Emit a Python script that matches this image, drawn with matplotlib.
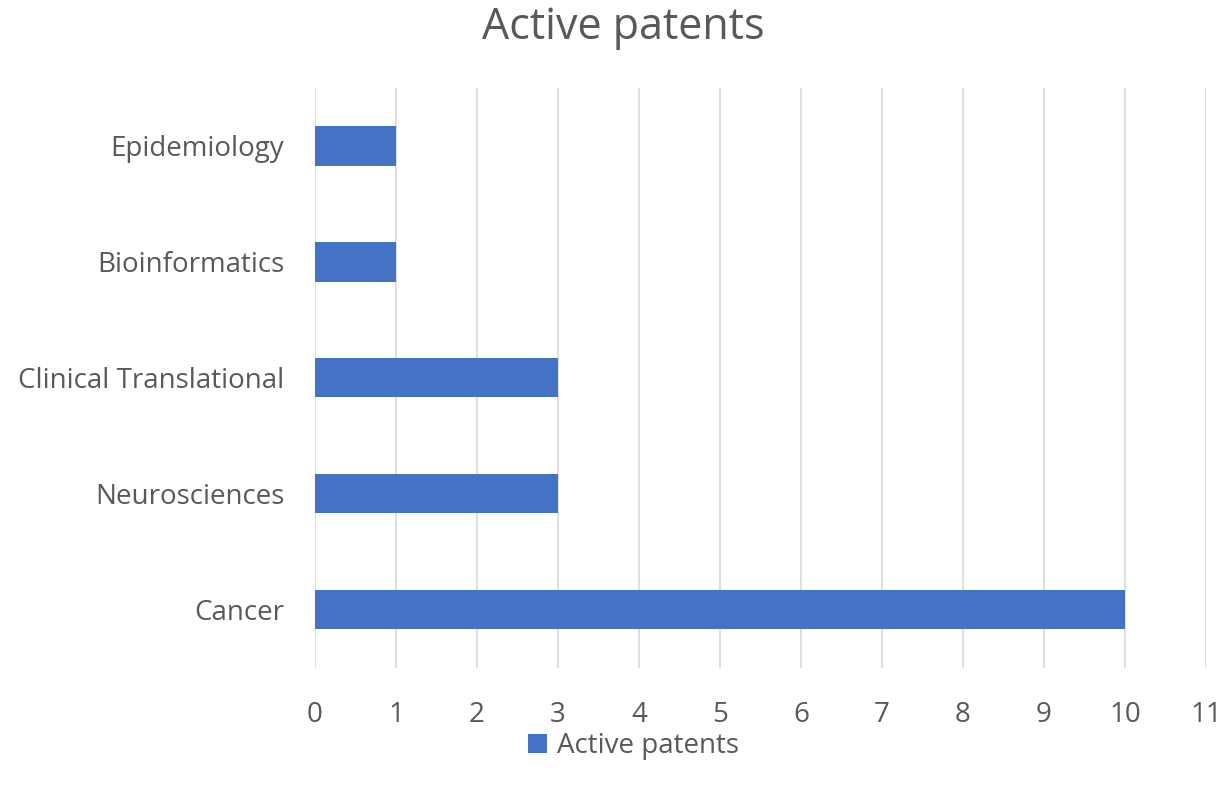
import matplotlib.pyplot as plt
import numpy as np

categories = ["Cancer", "Neurosciences", "Clinical Translational", "Bioinformatics", "Epidemiology"]
values = [10, 3, 3, 1, 1]
x_ticks = list(range(0, 12))

plt.rcParams['font.family'] = ['Open Sans', 'DejaVu Sans']
txt = "#595959"

fig = plt.figure(figsize=(12.3, 7.92), dpi=100)
ax = fig.add_axes([0.256, 0.157, 0.7245, 0.732])

y = np.arange(len(categories))
ax.barh(y, values, height=0.34, color="#4472C4", label="Active patents", zorder=3)

ax.set_xlim(0, 11)
ax.set_ylim(-0.5, len(categories) - 0.5)
ax.set_xticks(x_ticks)
ax.set_yticks(y)
ax.set_yticklabels(categories)
ax.grid(axis="x", color="#D9D9D9", linewidth=1.2, zorder=0)
for s in ax.spines.values():
    s.set_visible(False)
ax.tick_params(axis="both", length=0, labelsize=20, labelcolor=txt)
ax.tick_params(axis="x", pad=24)
ax.tick_params(axis="y", pad=22)

fig.text(0.507, 0.965, "Active patents", fontsize=31, color=txt, ha="center", va="center")
fig.legend(loc="center", bbox_to_anchor=(0.515, 0.058), frameon=False,
           fontsize=20, labelcolor=txt, handlelength=0.7, handleheight=0.7,
           handletextpad=0.35)

fig.savefig("out.png", dpi=100)
